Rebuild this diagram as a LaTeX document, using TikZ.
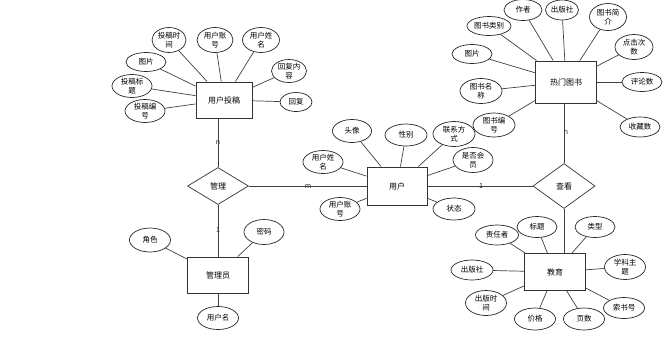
\documentclass[tikz,border=0pt]{standalone}
\usepackage{fontspec}
\setmainfont{Noto Sans CJK SC}
\usetikzlibrary{shapes.geometric}
\begin{document}
\begin{tikzpicture}[x=1pt,y=-1pt,
  ent/.style={draw=black!80,line width=1pt,fill=white,inner sep=0pt,font=\fontsize{8}{9}\selectfont},
  rel/.style={draw=black!80,line width=0.7pt,diamond,fill=white,inner sep=0pt,font=\fontsize{8}{9}\selectfont},
  attr/.style={draw=black!85,line width=0.7pt,ellipse,fill=white,inner sep=0pt,align=center,
     minimum width=40pt,minimum height=22pt,font=\fontsize{7.5}{8.5}\selectfont},
  lnk/.style={draw=black!75,line width=0.7pt},
  card/.style={font=\fontsize{7}{7}\selectfont,inner sep=0pt,text=black!85}]
\useasboundingbox (0,0) rectangle (664,341);
% entities
\node[ent,minimum width=56pt,minimum height=36pt] (tg) at (224,100) {用户投稿};
\node[ent,minimum width=61pt,minimum height=42pt] (rm) at (566,82) {热门图书};
\node[ent,minimum width=60pt,minimum height=38pt] (yh) at (397,186) {用户};
\node[ent,minimum width=61pt,minimum height=37pt] (jy) at (555,272) {教育};
\node[ent,minimum width=61pt,minimum height=36pt] (gly) at (218,275) {管理员};
% relations
\node[rel,minimum width=61pt,minimum height=37pt] (gl) at (218,186) {管理};
\node[rel,minimum width=62pt,minimum height=45pt] (ck) at (564,186) {查看};
% relation lines
\draw[lnk] (gl.north) -- (gl.north |- tg.south);
\draw[lnk] (gl.south) -- (gl.south |- gly.north);
\draw[lnk] (gl.east) -- (yh.west);
\draw[lnk] (yh.east) -- (ck.west);
\draw[lnk] (ck.north) -- (ck.north |- rm.south);
\draw[lnk] (ck.south) -- (ck.south |- jy.north);
\node[card] (c1) at (218,143) {n};
\node[card] (c2) at (218,230) {1};
\node[card] (c3) at (308,187) {m};
\node[card] (c4) at (481,186) {1};
\node[card] (c5) at (566,133) {n};
% 用户投稿 attributes
\node[attr,minimum width=34pt,minimum height=25pt] (a1) at (169,40) {投稿时\\间};
\node[attr,minimum width=36pt,minimum height=25pt] (a2) at (215,40) {用户账\\号};
\node[attr,minimum width=37pt,minimum height=25pt] (a3) at (261,40) {用户姓\\名};
\node[attr,minimum width=40pt,minimum height=19pt] (a4) at (146,62) {图片};
\node[attr,minimum width=40pt,minimum height=23pt] (a5) at (132,86) {投稿标\\题};
\node[attr,minimum width=40pt,minimum height=23pt] (a6) at (145,111) {投稿编\\号};
\node[attr,minimum width=35pt,minimum height=23pt] (a7) at (289,71) {回复内\\容};
\node[attr,minimum width=32pt,minimum height=19pt] (a8) at (296,102) {回复};
\foreach \n in {a1,a2,a3,a4,a5,a6,a7,a8} \draw[lnk] (\n) -- (tg);
% 热门图书 attributes
\node[attr,minimum width=38pt,minimum height=21pt] (b1) at (523,10) {作者};
\node[attr,minimum width=33pt,minimum height=20pt] (b2) at (562,10) {出版社};
\node[attr,minimum width=44pt,minimum height=19pt] (b3) at (489,26) {图书类别};
\node[attr,minimum width=37pt,minimum height=27pt] (b4) at (608,17) {图书简\\介};
\node[attr,minimum width=40pt,minimum height=19pt] (b5) at (472,54) {图片};
\node[attr,minimum width=38pt,minimum height=25pt] (b6) at (634,47) {点击次\\数};
\node[attr,minimum width=42pt,minimum height=25pt] (b7) at (481,91) {图书名\\称};
\node[attr,minimum width=40pt,minimum height=19pt] (b8) at (642,82) {评论数};
\node[attr,minimum width=42pt,minimum height=24pt] (b9) at (494,125) {图书编\\号};
\node[attr,minimum width=40pt,minimum height=20pt] (b10) at (640,127) {收藏数};
\foreach \n in {b1,b2,b3,b4,b5,b6,b7,b8,b9,b10} \draw[lnk] (\n) -- (rm);
% 用户 attributes
\node[attr,minimum width=39pt,minimum height=23pt] (c1a) at (352,131) {头像};
\node[attr,minimum width=42pt,minimum height=22pt] (c2a) at (406,135) {性别};
\node[attr,minimum width=42pt,minimum height=25pt] (c3a) at (454,134) {联系方\\式};
\node[attr,minimum width=40pt,minimum height=23pt] (c4a) at (323,162) {用户姓\\名};
\node[attr,minimum width=40pt,minimum height=25pt] (c5a) at (473,160) {是否会\\员};
\node[attr,minimum width=40pt,minimum height=23pt] (c6a) at (340,209) {用户账\\号};
\node[attr,minimum width=42pt,minimum height=22pt] (c7a) at (454,209) {状态};
\foreach \n in {c1a,c2a,c3a,c4a,c5a,c6a,c7a} \draw[lnk] (\n) -- (yh);
% 教育 attributes
\node[attr,minimum width=43pt,minimum height=20pt] (d1) at (497,235) {责任者};
\node[attr,minimum width=40pt,minimum height=21pt] (d2) at (537,227) {标题};
\node[attr,minimum width=40pt,minimum height=21pt] (d3) at (595,227) {类型};
\node[attr,minimum width=42pt,minimum height=20pt] (d4) at (472,270) {出版社};
\node[attr,minimum width=41pt,minimum height=25pt] (d5) at (625,267) {学科主\\题};
\node[attr,minimum width=41pt,minimum height=25pt] (d6) at (486,303) {出版时\\间};
\node[attr,minimum width=41pt,minimum height=22pt] (d7) at (535,319) {价格};
\node[attr,minimum width=41pt,minimum height=22pt] (d8) at (584,319) {页数};
\node[attr,minimum width=41pt,minimum height=21pt] (d9) at (624,308) {索书号};
\foreach \n in {d1,d2,d3,d4,d5,d6,d7,d8,d9} \draw[lnk] (\n) -- (jy);
% 管理员 attributes
\node[attr,minimum width=41pt,minimum height=24pt] (e1) at (150,240) {角色};
\node[attr,minimum width=40pt,minimum height=25pt] (e2) at (264,232) {密码};
\node[attr,minimum width=41pt,minimum height=23pt] (e3) at (218,318) {用户名};
\foreach \n in {e1,e2,e3} \draw[lnk] (\n) -- (gly);
\end{tikzpicture}
\end{document}
